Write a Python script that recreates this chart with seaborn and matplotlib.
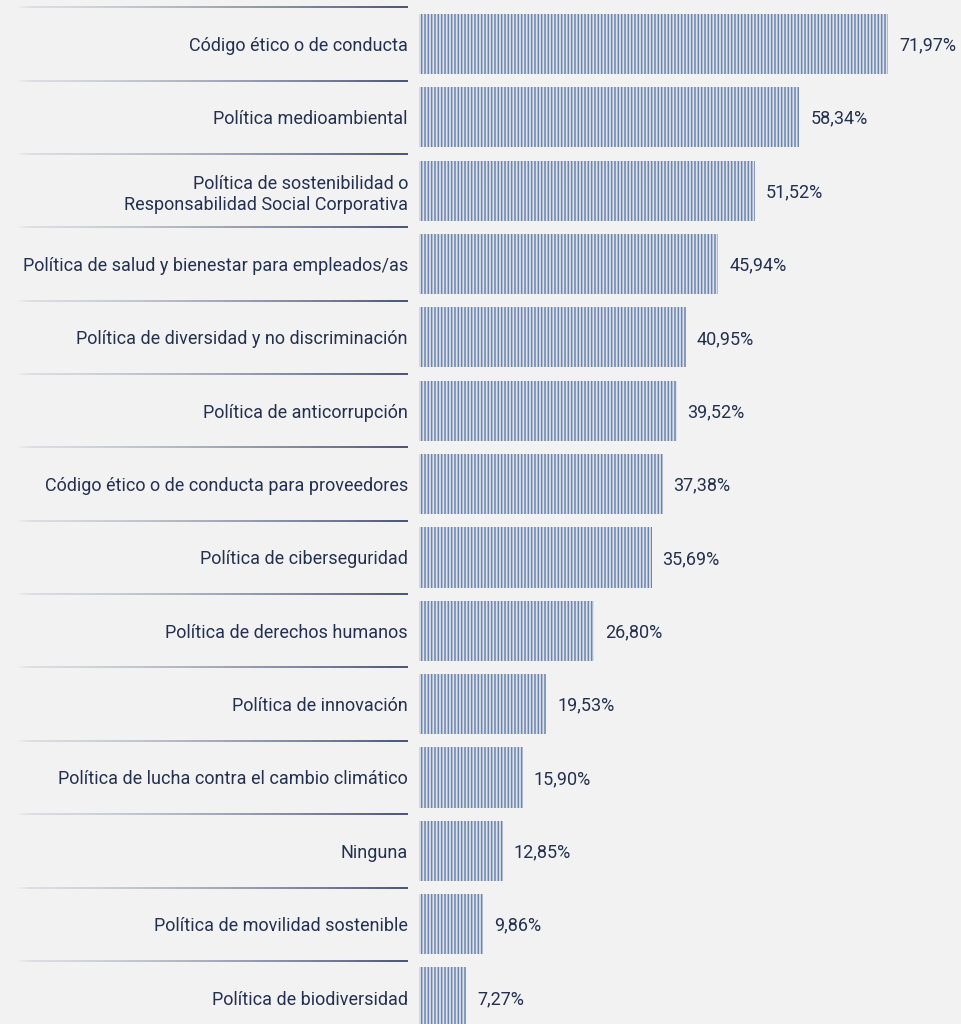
import numpy as np
import pandas as pd
import matplotlib
matplotlib.use("Agg")
import matplotlib.pyplot as plt
import seaborn as sns
from matplotlib.collections import LineCollection
from matplotlib.colors import to_rgb

categories = [
    "Código ético o de conducta",
    "Política medioambiental",
    "Política de sostenibilidad o\nResponsabilidad Social Corporativa",
    "Política de salud y bienestar para empleados/as",
    "Política de diversidad y no discriminación",
    "Política de anticorrupción",
    "Código ético o de conducta para proveedores",
    "Política de ciberseguridad",
    "Política de derechos humanos",
    "Política de innovación",
    "Política de lucha contra el cambio climático",
    "Ninguna",
    "Política de movilidad sostenible",
    "Política de biodiversidad",
]
values = [71.97, 58.34, 51.52, 45.94, 40.95, 39.52, 37.38, 35.69, 26.80, 19.53, 15.90, 12.85, 9.86, 7.27]

BG = "#f2f2f2"
NAVY = "#24304f"
BAR_FILL = "#dbe2ec"
BAR_HATCH = "#6e85aa"

sns.set_theme(style="white")
plt.rcParams["font.family"] = ["Roboto", "DejaVu Sans"]
plt.rcParams["hatch.linewidth"] = 1.1

W, H = 961, 1024
fig = plt.figure(figsize=(W / 100, H / 100), dpi=100, facecolor=BG)

x0 = 419
ax = fig.add_axes([x0 / W, 0, 1 - x0 / W, 1])
ax.set_facecolor("none")

df = pd.DataFrame({"cat": categories, "val": values})
sns.barplot(data=df, y="cat", x="val", orient="h", ax=ax, width=0.82,
            color=BAR_FILL, edgecolor=BAR_HATCH, linewidth=0,
            hatch="|||||", saturation=1)

px_per_unit = 6.517
ax.set_xlim(0, (W - x0) / px_per_unit)
step = 73.35
c0 = 44.0
ax.set_ylim((H - c0) / step, -c0 / step)

for i, v in enumerate(values):
    ax.text(v + 11 / px_per_unit, i + 0.02, f"{v:.2f}".replace(".", ",") + "%",
            va="center", ha="left", fontsize=13, color=NAVY)

ax.set_xlabel("")
ax.set_ylabel("")
ax.set_xticks([])
ax.tick_params(axis="y", length=0, pad=8, labelsize=13, labelcolor=NAVY)
for s in ax.spines.values():
    s.set_visible(False)

# gradient separator rules in the label margin
trans = matplotlib.transforms.blended_transform_factory(fig.transFigure, ax.transData)
xs = np.linspace(15 / W, 408 / W, 200)
light = np.array(to_rgb("#f2f2f2"))
dark = np.array(to_rgb("#2b3760"))
for k in range(len(categories)):
    y = k - 0.5
    segs = [[(xs[j], y), (xs[j + 1], y)] for j in range(len(xs) - 1)]
    t = 0.12 + 0.88 * np.linspace(0, 1, len(segs)) ** 1.4
    t[:8] = np.linspace(0, 0.12, 8)
    cols = [tuple(light * (1 - a) + dark * a) for a in t]
    lc = LineCollection(segs, colors=cols, linewidths=1.2, transform=trans, clip_on=False)
    ax.add_collection(lc)

fig.savefig("out.png", dpi=100, facecolor=BG)
